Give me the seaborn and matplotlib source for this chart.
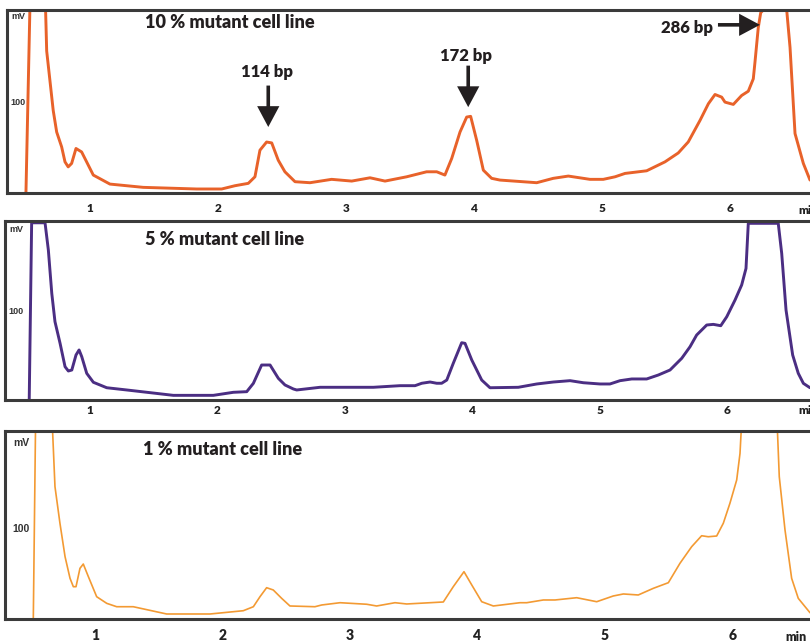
import matplotlib
matplotlib.use("Agg")
import matplotlib.pyplot as plt
import seaborn as sns
import pandas as pd

# ---------------- data ----------------
panel_titles = ["10 % mutant cell line", "5 % mutant cell line", "1 % mutant cell line"]
x_ticks = [1, 2, 3, 4, 5, 6]
x_tick_labels = ["1", "2", "3", "4", "5", "6"]
y_ticks = [100]
y_tick_labels = ["100"]
peak_labels = ["114 bp", "172 bp", "286 bp"]

t10 = [0.50, 0.535, 0.648, 0.662, 0.713, 0.740, 0.779, 0.805, 0.830, 0.857,
       0.891, 0.935, 1.026, 1.156, 1.416, 1.834, 2.029, 2.133, 2.237, 2.289,
       2.328, 2.380, 2.420, 2.471, 2.523, 2.602, 2.719, 2.888, 3.045, 3.188,
       3.305, 3.474, 3.630, 3.709, 3.773, 3.826, 3.891, 3.943, 3.974, 4.021,
       4.073, 4.138, 4.203, 4.490, 4.619, 4.737, 4.906, 5.010, 5.102, 5.180,
       5.349, 5.492, 5.596, 5.674, 5.766, 5.831, 5.883, 5.935, 5.961, 6.026,
       6.091, 6.143, 6.182, 6.195, 6.221, 6.240, 6.26, 6.443, 6.469, 6.508,
       6.573, 6.625]
mv10 = [0, 230, 230, 156, 90.7, 67, 50.6, 34.2, 28.7, 32.5,
        48.9, 45.1, 19.7, 9.8, 6.2, 4.4, 4.4, 8.0, 10.6, 17.8,
        47, 56, 55, 36, 23.3, 12.4, 11.3, 15, 13.1, 16.7,
        13.1, 17.8, 23.3, 23.3, 19.7, 37.9, 67, 83.4, 84.2, 57.9,
        25.1, 16.1, 14.2, 11.3, 16.1, 18.6, 15, 15, 17.8, 21.5,
        24.4, 34.2, 44, 56.1, 79.8, 98, 108.2, 105.3, 99.8, 97.3,
        107.1, 111.8, 125.4, 143.5, 181.8, 198, 201, 201, 160, 65.3,
        32.5, 14.2]

t5 = [0.523, 0.542, 0.647, 0.673, 0.700, 0.725, 0.765, 0.804, 0.830, 0.857,
      0.890, 0.914, 0.935, 0.974, 1.026, 1.131, 1.288, 1.471, 1.653, 1.967,
      2.124, 2.229, 2.281, 2.346, 2.412, 2.477, 2.529, 2.595, 2.621, 2.804,
      3.222, 3.431, 3.549, 3.602, 3.667, 3.719, 3.758, 3.798, 3.849, 3.915,
      3.941, 3.994, 4.072, 4.137, 4.359, 4.504, 4.634, 4.765, 4.869, 5.000,
      5.078, 5.157, 5.249, 5.366, 5.457, 5.549, 5.641, 5.706, 5.758, 5.837,
      5.889, 5.947, 5.994, 6.059, 6.111, 6.145, 6.155, 6.163, 6.398, 6.425,
      6.459, 6.511, 6.555, 6.595, 6.647]
mv5 = [0, 198, 198, 167.6, 119, 87.5, 63.3, 37.2, 32.4, 33.5,
       50.3, 55.9, 48.4, 29.8, 19.8, 13.7, 11.2, 8.2, 5.2, 5.2,
       8.6, 9.3, 18.6, 39.1, 39.1, 24.2, 16.8, 12.3, 11.2, 14.2,
       14.2, 16, 16, 18.7, 20.1, 18.7, 18.7, 22.3, 41, 64,
       63.3, 44.7, 22.3, 13.7, 14.2, 17.9, 20.1, 21.6, 19.3, 17.9,
       17.9, 21.6, 23.5, 23.5, 27.9, 33.5, 46.6, 59.5, 72.6, 83.8,
       84.5, 83, 93, 111.7, 128.5, 147, 175, 197.4, 197.4, 163.9,
       100.5, 50.3, 29.8, 18.6, 13.7]

t1 = [0.516, 0.535, 0.660, 0.686, 0.725, 0.765, 0.804, 0.830, 0.851, 0.882,
      0.908, 0.948, 1.013, 1.092, 1.170, 1.300, 1.562, 1.902, 2.163, 2.242,
      2.294, 2.346, 2.398, 2.464, 2.529, 2.725, 2.778, 2.922, 3.131, 3.209,
      3.353, 3.445, 3.732, 3.810, 3.894, 3.955, 4.033, 4.124, 4.333, 4.386,
      4.516, 4.608, 4.778, 4.935, 5.065, 5.144, 5.261, 5.379, 5.497, 5.588,
      5.680, 5.758, 5.810, 5.876, 5.928, 5.980, 6.033, 6.059, 6.077, 6.346,
      6.367, 6.412, 6.464, 6.516, 6.608]
mv1 = [0, 230, 230, 145.4, 105.2, 68.5, 44.7, 35.5, 35.5, 55.7,
       60.4, 46.5, 24.5, 17.2, 13.5, 13.5, 5.5, 5.5, 9.1, 13.5,
       24.5, 34.4, 31.9, 22.7, 14.3, 13.5, 15.4, 17.9, 16.2, 14.3,
       17.9, 16.5, 18.7, 35.5, 52, 37.4, 19, 14.3, 17.9, 17.9,
       20.9, 20.9, 23.4, 19, 25.3, 27.5, 26.4, 33.7, 39.9, 61.2,
       79.5, 91.5, 90.4, 91.2, 105.2, 127.2, 152.8, 182, 230, 230,
       156.4, 97.8, 44.7, 22.7, 6.9]

# arrow annotations (panel 1): tip (t, mV), tail (t, mV), label position (t, mV)
arrow_tips = [(2.393, 72.5), (3.955, 94.3), (6.234, 184.7)]
arrow_tails = [(2.393, 118.0), (3.955, 139.9), (5.906, 184.7)]
label_pos = [(2.387, 132.6), (3.9375, 150.8), (5.867, 181.5)]

# ---------------- style ----------------
sns.set_style("white")
plt.rcParams["font.family"] = ["Lato", "DejaVu Sans"]

W, H = 810, 642
fig = plt.figure(figsize=(W / 100, H / 100), dpi=100)

def px_axes(left, top, bottom, right=810):
    return fig.add_axes([left / W, (H - bottom) / H, (right - left) / W, (bottom - top) / H])

spine_col = "#3b3b3b"
panels = [
    dict(t=t10, mv=mv10, color="#E8622A", lw=2.1, rect=(7, 10, 193),
         xlim=(0.352, 6.625), ylim=(0, 201), tick_fs=8.5, tick_pad=7.0,
         mv_pos=(0.006, 0.962), y_pad=-13, y_fs=6.5,
         title_pos=(0.172, 0.929), min_pos=(0.985, -0.093), min_fs=8.5),
    dict(t=t5, mv=mv5, color="#4B2E83", lw=2.1, rect=(5, 221, 400),
         xlim=(0.333, 6.647), ylim=(0, 200), tick_fs=8.5, tick_pad=3.5,
         mv_pos=(0.005, 0.95), y_pad=-13.5, y_fs=6.5,
         title_pos=(0.174, 0.894), min_pos=(0.985, -0.058), min_fs=8.5),
    dict(t=t1, mv=mv1, color="#F39A33", lw=1.2, rect=(5, 431, 619),
         xlim=(0.294, 6.608), ylim=(0, 206.6), tick_fs=10, tick_pad=7.0,
         mv_pos=(0.01, 0.936), y_pad=-17.5, y_fs=7.5,
         title_pos=(0.171, 0.904), min_pos=(0.969, -0.096), min_fs=9.0),
]

axes = []
for i, p in enumerate(panels):
    ax = px_axes(*p["rect"])
    df = pd.DataFrame({"t": p["t"], "mv": p["mv"]})
    sns.lineplot(data=df, x="t", y="mv", ax=ax, color=p["color"], lw=p["lw"],
                 sort=False, estimator=None, solid_joinstyle="round")
    ax.set_xlim(*p["xlim"])
    ax.set_ylim(*p["ylim"])
    ax.set_xlabel("")
    ax.set_ylabel("")
    ax.set_xticks(x_ticks)
    ax.set_xticklabels(x_tick_labels, fontsize=p["tick_fs"], fontweight="heavy", color="#222222")
    ax.set_yticks(y_ticks)
    ax.set_yticklabels(y_tick_labels, fontsize=p["y_fs"], fontweight="bold", color="#333333",
                       family=["Liberation Sans", "DejaVu Sans"])
    ax.tick_params(axis="x", length=0, pad=p["tick_pad"])
    ax.tick_params(axis="y", length=0, pad=p["y_pad"])
    for s in ["left", "top", "bottom"]:
        ax.spines[s].set_color(spine_col)
        ax.spines[s].set_linewidth(2.2)
        ax.spines[s].set_zorder(5)
    ax.spines["right"].set_visible(False)
    ax.text(*p["mv_pos"], "mV", transform=ax.transAxes, fontsize=p["y_fs"], fontweight="bold",
            color="#333333", ha="left", va="center", family=["Liberation Sans", "DejaVu Sans"])
    ax.text(*p["title_pos"], panel_titles[i], transform=ax.transAxes, fontsize=13,
            fontweight="heavy", color="#231f20", ha="left", va="center")
    ax.text(*p["min_pos"], "min", transform=ax.transAxes, fontsize=p["min_fs"],
            fontweight="heavy", color="#222222", ha="left", va="center", clip_on=False)
    axes.append(ax)

# arrows and peak labels on panel 1
ax0 = axes[0]
for k in range(3):
    ax0.annotate("", xy=arrow_tips[k], xytext=arrow_tails[k],
                 arrowprops=dict(width=2.6, headwidth=16, headlength=15, shrink=0,
                                 facecolor="#231f20", edgecolor="none"))
    ha = "right" if k == 2 else "center"
    ax0.text(*label_pos[k], peak_labels[k], fontsize=12, fontweight="heavy",
             color="#231f20", ha=ha, va="center")

fig.savefig("out.png", dpi=100)
